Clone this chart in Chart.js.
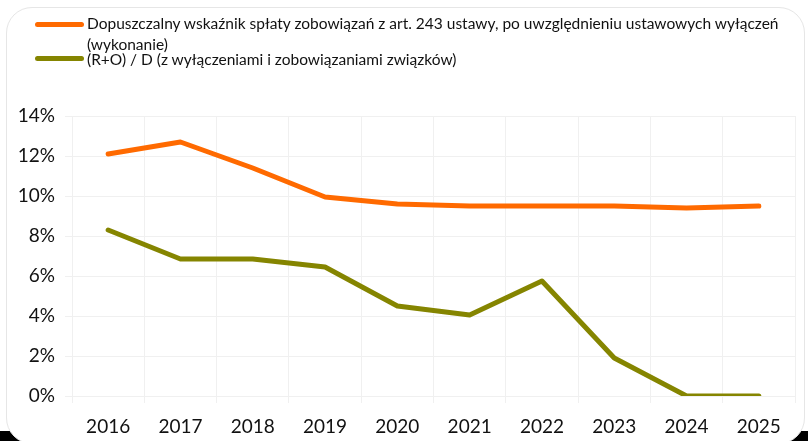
<!DOCTYPE html>
<html>
<head>
<meta charset="utf-8">
<script src="https://cdn.jsdelivr.net/npm/chart.js@4.4.0/dist/chart.umd.min.js"></script>
<style>
  html, body { margin: 0; padding: 0; background: #fff; }
  #wrap { position: relative; width: 808px; height: 441px; overflow: hidden; }
  #shade { position: absolute; left: 0; right: 0; bottom: 0; height: 10px; background: #000; }
  #frame { position: absolute; left: 6px; top: 7px; right: 3px; bottom: -3px;
           border: 1px solid #e6e6e6; border-radius: 26px; background: #fff; }
  #chart { position: absolute; left: 0; top: 0; }
  .leg { position: absolute; font-family: Lato, sans-serif; font-size: 15.5px; color: #111; white-space: nowrap; }
  .sw { position: absolute; height: 5px; border-radius: 3px; }
</style>
</head>
<body>
<div id="wrap">
  <div id="shade"></div>
  <div id="frame"></div>
  <canvas id="chart" width="808" height="441"></canvas>
  <div class="sw" style="left:35px; top:22px; width:49px; background:#ff6a00"></div>
  <div class="leg" id="l1" style="left:87px; top:14px">Dopuszczalny wskaźnik spłaty zobowiązań z art. 243 ustawy, po uwzględnieniu ustawowych wyłączeń</div>
  <div class="leg" style="left:87px; top:35px">(wykonanie)</div>
  <div class="sw" style="left:35px; top:56px; width:49px; background:#858500"></div>
  <div class="leg" style="left:87px; top:50px">(R+O) / D (z wyłączeniami i zobowiązaniami związków)</div>
</div>
<script>
'use strict';

const years = ['2016', '2017', '2018', '2019', '2020', '2021', '2022', '2023', '2024', '2025'];
const allowedRatio = [12.1, 12.7, 11.4, 9.95, 9.6, 9.5, 9.5, 9.5, 9.4, 9.5];
const actualRatio = [8.3, 6.85, 6.85, 6.45, 4.5, 4.05, 5.75, 1.9, 0, 0];
const yTicks = [0, 2, 4, 6, 8, 10, 12, 14];

const labelNames = [
  'Dopuszczalny wskaźnik spłaty zobowiązań z art. 243 ustawy, po uwzględnieniu ustawowych wyłączeń (wykonanie)',
  '(R+O) / D (z wyłączeniami i zobowiązaniami związków)'
];

let canvasElem = document.getElementById('chart');
let gridColor = '#f0f0f0';
let tickFont = { family: 'Lato, sans-serif', size: 19 };

function renderChart() {
    let data = {
        labels: years,
        datasets: [
            {
              label: labelNames[0],
              data: allowedRatio,
              borderColor: '#ff6a00',
              backgroundColor: '#ff6a00',
              borderWidth: 5
            },
            {
              label: labelNames[1],
              data: actualRatio,
              borderColor: '#858500',
              backgroundColor: '#858500',
              borderWidth: 5
            }
        ]
    };
    let options = {
        responsive: false,
        animation: false,
        layout: { padding: { top: 116, right: 13, left: 0, bottom: 0 } },
        elements: {
            point: { radius: 0 },
            line: { tension: 0, borderCapStyle: 'round', borderJoinStyle: 'round' }
        },
        plugins: {
            legend: { display: false },
            tooltip: { enabled: false }
        },
        scales: {
            x: {
                offset: true,
                grid: { color: gridColor, offset: true, tickLength: 7 },
                border: { color: gridColor },
                ticks: { color: '#111', font: tickFont, padding: 12, maxRotation: 0 },
                afterFit: (scale) => { scale.height = 45; }
            },
            y: {
                min: 0,
                max: 14,
                afterBuildTicks: (scale) => { scale.ticks = yTicks.map(v => ({ value: v })); },
                grid: { color: gridColor, tickLength: 7 },
                border: { color: gridColor },
                ticks: { color: '#111', font: tickFont, padding: 10, callback: (v) => v + '%' },
                afterFit: (scale) => { scale.width = 72; }
            }
        }
    };

    let ctx = canvasElem.getContext('2d');
    new Chart(ctx, {
        type: 'line',
        data: data,
        options: options
    });
}

renderChart();
</script>
</body>
</html>
